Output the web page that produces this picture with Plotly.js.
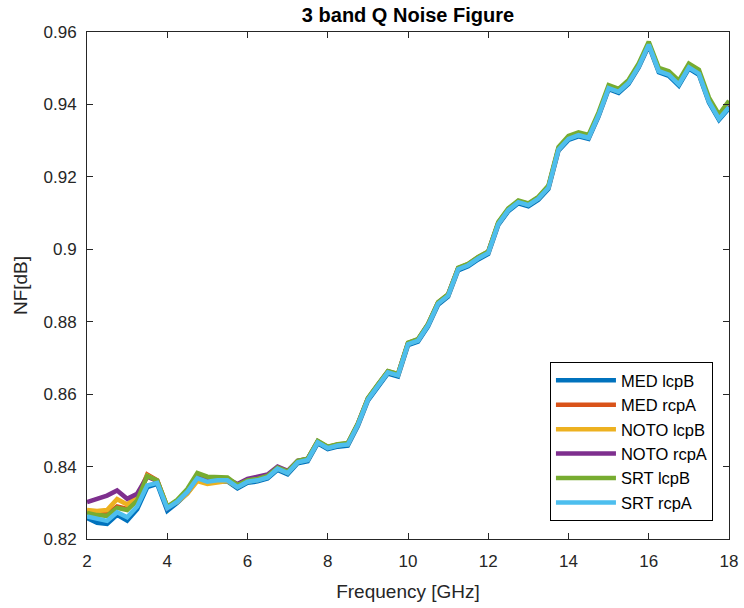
<!DOCTYPE html>
<html>
<head>
<meta charset="utf-8">
<script src="https://cdn.plot.ly/plotly-3.0.1.min.js"></script>
<style>html,body{margin:0;padding:0;background:#fff;}#chart{width:744px;height:608px;}</style>
</head>
<body>
<div id="chart"></div>
<script>
const freq = [2,2.25,2.5,2.75,3,3.25,3.5,3.75,4,4.25,4.5,4.75,5,5.25,5.5,5.75,6,6.25,6.5,6.75,7,7.25,7.5,7.75,8,8.25,8.5,8.75,9,9.25,9.5,9.75,10,10.25,10.5,10.75,11,11.25,11.5,11.75,12,12.25,12.5,12.75,13,13.25,13.5,13.75,14,14.25,14.5,14.75,15,15.25,15.5,15.75,16,16.25,16.5,16.75,17,17.25,17.5,17.75,18];

const medLcpB = [0.8258,0.8245,0.8242,0.8267,0.8251,0.8282,0.8343,0.8352,0.8278,0.8300,0.8326,0.8364,0.8355,0.8359,0.8359,0.8340,0.8355,0.8359,0.8367,0.8391,0.8379,0.8409,0.8415,0.8464,0.8448,0.8455,0.8458,0.8512,0.8582,0.8620,0.8657,0.8649,0.8735,0.8745,0.8787,0.8847,0.8869,0.8942,0.8953,0.8972,0.8987,0.9067,0.9105,0.9127,0.9119,0.9137,0.9167,0.9272,0.9302,0.9312,0.9305,0.9367,0.9442,0.9432,0.9457,0.9502,0.9562,0.9489,0.9479,0.9452,0.9499,0.9482,0.9405,0.9357,0.9389];
const medRcpA = [0.8274,0.8270,0.8268,0.8290,0.8283,0.8310,0.8378,0.8362,0.8288,0.8306,0.8333,0.8372,0.8365,0.8368,0.8367,0.8347,0.8361,0.8366,0.8374,0.8397,0.8385,0.8415,0.8421,0.8470,0.8454,0.8461,0.8464,0.8518,0.8588,0.8626,0.8663,0.8655,0.8741,0.8751,0.8793,0.8853,0.8875,0.8948,0.8959,0.8978,0.8993,0.9073,0.9111,0.9133,0.9125,0.9143,0.9173,0.9278,0.9308,0.9318,0.9311,0.9373,0.9448,0.9438,0.9463,0.9508,0.9568,0.9496,0.9486,0.9459,0.9506,0.9489,0.9412,0.9364,0.9396];
const notoLcpB = [0.8280,0.8277,0.8280,0.8310,0.8295,0.8318,0.8375,0.8360,0.8290,0.8302,0.8325,0.8360,0.8352,0.8355,0.8360,0.8344,0.8359,0.8363,0.8371,0.8395,0.8383,0.8413,0.8419,0.8468,0.8452,0.8459,0.8462,0.8516,0.8586,0.8624,0.8661,0.8653,0.8739,0.8749,0.8791,0.8851,0.8873,0.8946,0.8957,0.8976,0.8991,0.9071,0.9109,0.9131,0.9123,0.9141,0.9171,0.9276,0.9306,0.9316,0.9309,0.9371,0.9446,0.9436,0.9461,0.9506,0.9566,0.9494,0.9484,0.9457,0.9504,0.9487,0.9410,0.9362,0.9394];
const notoRcpA = [0.8302,0.8310,0.8320,0.8334,0.8311,0.8325,0.8372,0.8360,0.8285,0.8305,0.8330,0.8370,0.8362,0.8366,0.8366,0.8352,0.8366,0.8372,0.8378,0.8400,0.8388,0.8416,0.8421,0.8469,0.8453,0.8460,0.8463,0.8517,0.8587,0.8625,0.8662,0.8654,0.8740,0.8750,0.8792,0.8852,0.8874,0.8947,0.8958,0.8977,0.8992,0.9072,0.9110,0.9132,0.9124,0.9142,0.9172,0.9277,0.9307,0.9317,0.9310,0.9372,0.9447,0.9437,0.9462,0.9507,0.9567,0.9496,0.9487,0.9460,0.9507,0.9490,0.9412,0.9364,0.9396];
const srtLcpB = [0.8272,0.8266,0.8264,0.8286,0.8280,0.8306,0.8374,0.8362,0.8289,0.8308,0.8338,0.8382,0.8372,0.8372,0.8370,0.8349,0.8362,0.8366,0.8374,0.8397,0.8386,0.8416,0.8422,0.8471,0.8455,0.8462,0.8465,0.8519,0.8589,0.8627,0.8664,0.8656,0.8742,0.8752,0.8794,0.8854,0.8876,0.8949,0.8960,0.8979,0.8994,0.9075,0.9113,0.9135,0.9127,0.9145,0.9176,0.9282,0.9313,0.9323,0.9316,0.9378,0.9453,0.9443,0.9468,0.9513,0.9573,0.9501,0.9492,0.9466,0.9513,0.9496,0.9419,0.9372,0.9410];
const srtRcpA = [0.8262,0.8255,0.8250,0.8274,0.8260,0.8290,0.8348,0.8355,0.8285,0.8303,0.8330,0.8368,0.8358,0.8362,0.8362,0.8343,0.8358,0.8362,0.8370,0.8394,0.8382,0.8412,0.8418,0.8467,0.8451,0.8458,0.8461,0.8515,0.8585,0.8623,0.8660,0.8652,0.8738,0.8748,0.8790,0.8850,0.8872,0.8945,0.8956,0.8975,0.8990,0.9070,0.9108,0.9130,0.9122,0.9140,0.9170,0.9275,0.9305,0.9315,0.9308,0.9370,0.9445,0.9435,0.9460,0.9505,0.9565,0.9492,0.9482,0.9455,0.9502,0.9485,0.9408,0.9360,0.9392];

const seriesNames = ['MED lcpB','MED rcpA','NOTO lcpB','NOTO rcpA','SRT lcpB','SRT rcpA'];
const seriesValues = [medLcpB, medRcpA, notoLcpB, notoRcpA, srtLcpB, srtRcpA];
const seriesColors = ['#0072BD','#D95319','#EDB120','#7E2F8E','#77AC30','#4DBEEE'];

const xTickVals = [2,4,6,8,10,12,14,16,18];
const yTickVals = [0.82,0.84,0.86,0.88,0.9,0.92,0.94,0.96];
const yTickText = ['0.82','0.84','0.86','0.88','0.9','0.92','0.94','0.96'];

const FONT = 'Liberation Sans, Arial, Helvetica, sans-serif';
const AXC = '#262626';

const traces = seriesNames.map((n, i) => ({
  x: freq, y: seriesValues[i], name: n, type: 'scatter', mode: 'lines',
  line: {color: seriesColors[i], width: 4.5}
}));

const axisCommon = {
  showgrid: false, zeroline: false, showline: true, linecolor: AXC, linewidth: 1,
  mirror: 'ticks', ticks: 'inside', ticklen: 6, tickcolor: AXC, tickwidth: 1,
  tickfont: {family: FONT, size: 17, color: AXC}
};

const layout = {
  width: 744, height: 608,
  margin: {l: 87, r: 15, t: 32, b: 69, pad: 0},
  paper_bgcolor: '#fff', plot_bgcolor: '#fff',
  title: {text: '3 band Q Noise Figure', font: {family: FONT, size: 20, color: '#000', weight: 'bold'},
          x: 0.5, xref: 'paper', y: 1 - 15/608, yref: 'container', yanchor: 'middle'},
  xaxis: Object.assign({}, axisCommon, {
    range: [2, 18], tickmode: 'array', tickvals: xTickVals,
    ticklabelstandoff: 7,
    title: {text: 'Frequency [GHz]', font: {family: FONT, size: 19, color: AXC}, standoff: 14}
  }),
  yaxis: Object.assign({}, axisCommon, {
    range: [0.82, 0.96], tickmode: 'array', tickvals: yTickVals, ticktext: yTickText,
    ticklabelstandoff: 6,
    title: {text: 'NF[dB]', font: {family: FONT, size: 19, color: AXC}, standoff: 10}
  }),
  legend: {
    x: 0.975, xanchor: 'right', y: 0.0355, yanchor: 'bottom',
    bgcolor: '#fff', bordercolor: '#000', borderwidth: 1,
    font: {family: FONT, size: 16.5, color: '#000'},
    itemwidth: 60, tracegroupgap: 0
  },
  showlegend: true
};

Plotly.newPlot('chart', traces, layout, {displayModeBar: false, staticPlot: true});
</script>
</body>
</html>
